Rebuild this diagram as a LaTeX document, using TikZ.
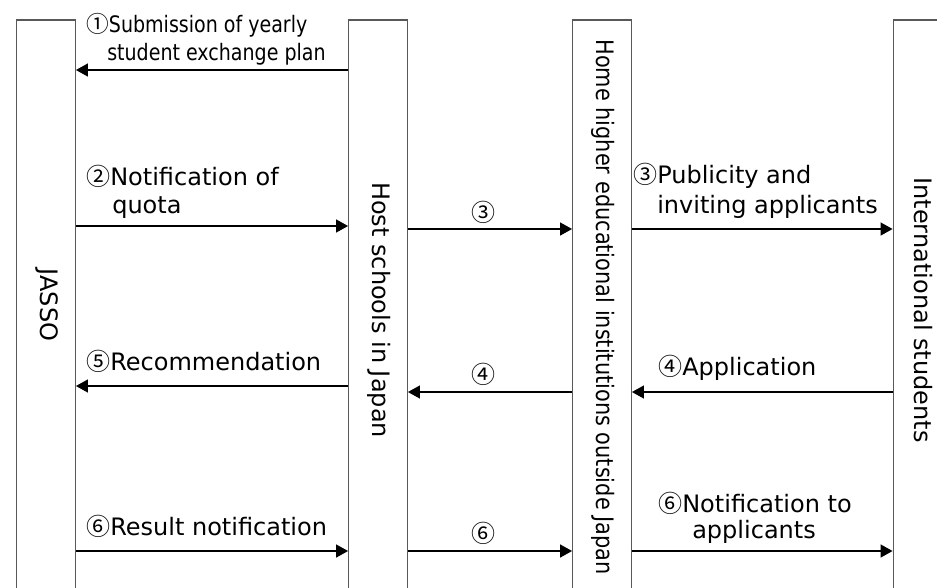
\documentclass[tikz,border=0pt]{standalone}
\usepackage{fontspec}
\setmainfont{DejaVu Sans}
\newfontfamily\narrowfont[FakeStretch=0.84]{DejaVu Sans}
\newfontfamily\longfont[FakeStretch=0.87]{DejaVu Sans}
\newfontfamily\cjkfont{Noto Sans CJK JP}
\newcommand{\cnum}[1]{{\cjkfont #1}}
\usetikzlibrary{arrows.meta}

\tikzset{
  party/.style={draw=black!65, line width=0.8pt, minimum width=44pt, minimum height=435pt, inner sep=0pt},
  flow/.style={-{Triangle[length=9pt,width=9.5pt]}, line width=1.6pt},
  lbl/.style={anchor=base west, inner sep=0pt, font=\fontsize{18}{20}\selectfont},
  num/.style={inner sep=0pt, font=\fontsize{18}{20}\selectfont},
  vlbl/.style={rotate=-90, inner sep=0pt, font=\fontsize{18}{20}\selectfont},
}

\begin{document}
\begin{tikzpicture}[x=0.75pt, y=-0.75pt]

    \clip (0,0) rectangle (937,587);

    % The four parties (boxes run off the bottom)
    \node[party] (jasso) at (46,310) {};
    \node[party] (host) at (378,310) {};
    \node[party] (home) at (602,310) {};
    \node[party] (intl) at (922.5,310) {};

    % Their names, written top to bottom
    \node[vlbl] (jassoname) at (47,305) {JASSO};
    \node[vlbl] (hostname) at (379,310) {Host schools in Japan};
    \node[vlbl, font=\fontsize{18}{20}\longfont] (homename) at (603,307) {Home higher educational institutions outside Japan};
    \node[vlbl] (intlname) at (923,310) {International students};

    % Heights of the arrow rows
    \coordinate (row1) at (0,70);
    \coordinate (row2) at (0,226);
    \coordinate (row3) at (0,229);
    \coordinate (row5) at (0,386);
    \coordinate (row4) at (0,392);
    \coordinate (row6) at (0,551);

    % Step 1: plan goes up to JASSO
    \draw[flow] (host.west |- row1) -- (jasso.east |- row1);
    \node[lbl, font=\fontsize{17}{20}\narrowfont] (plan1) at (86,32) {\cnum{①}Submission of yearly};
    \node[lbl, font=\fontsize{17}{20}\narrowfont] (plan2) at (107,60) {student exchange plan};

    % Step 2: quota
    \draw[flow] (jasso.east |- row2) -- (host.west |- row2);
    \node[lbl] (quota1) at (86,185) {\cnum{②}Notification of};
    \node[lbl] (quota2) at (112,213) {quota};

    % Step 3: publicity
    \draw[flow] (host.east |- row3) -- (home.west |- row3);
    \node[num] (pub0) at (483,212) {\cnum{③}};
    \draw[flow] (home.east |- row3) -- (intl.west |- row3);
    \node[lbl] (pub1) at (633,183) {\cnum{③}Publicity and};
    \node[lbl] (pub2) at (657,213) {inviting applicants};

    % Step 4: applications
    \draw[flow] (intl.west |- row4) -- (home.east |- row4);
    \node[lbl] (appl) at (658,375) {\cnum{④}Application};
    \draw[flow] (home.west |- row4) -- (host.east |- row4);
    \node[num] (appl0) at (483,374) {\cnum{④}};

    % Step 5: recommendation
    \draw[flow] (host.west |- row5) -- (jasso.east |- row5);
    \node[lbl] (recom) at (86,370) {\cnum{⑤}Recommendation};

    % Step 6: results
    \draw[flow] (jasso.east |- row6) -- (host.west |- row6);
    \node[lbl] (result) at (86,535) {\cnum{⑥}Result notification};
    \draw[flow] (host.east |- row6) -- (home.west |- row6);
    \node[num] (result0) at (483,533) {\cnum{⑥}};
    \draw[flow] (home.east |- row6) -- (intl.west |- row6);
    \node[lbl] (notif1) at (658,512) {\cnum{⑥}Notification to};
    \node[lbl] (notif2) at (692,538) {applicants};

\end{tikzpicture}
\end{document}
